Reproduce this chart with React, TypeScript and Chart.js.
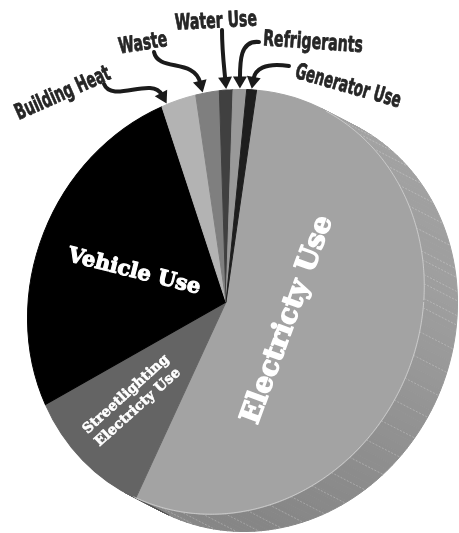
import React, { useEffect, useRef } from "react";
import { Chart, registerables } from "chart.js";

Chart.register(...registerables);

// ---- data ----
const categories = [
  "Electricty Use",
  "Streetlighting Electricty Use",
  "Vehicle Use",
  "Building Heat",
  "Waste",
  "Water Use",
  "Refrigerants",
  "Generator Use",
];
const shares = [55.1, 10.7, 26.6, 2.8, 1.9, 1.1, 1.1, 0.8];
const sliceColors = ["#a3a3a3", "#646464", "#000000", "#b3b3b3", "#7f7f7f", "#404040", "#999999", "#1e1e1e"];

// ---- look ----
const SX = 0.9316; // horizontal squash of the pie face
const SHX = -0.071; // slight tilt of the face
const DX = 33; // extrusion depth
const DY = 17;
const START_ROT = 4.5;

const INNER_LABELS = [
  { lines: ["Electricty Use"], x: 288, y: 320, rot: -70, size: 28, lh: 30, sw: 1.4 },
  { lines: ["Vehicle Use"], x: 134, y: 272, rot: 14, size: 21, lh: 22, sw: 1.1 },
  { lines: ["Streetlighting", "Electricty Use"], x: 132, y: 401, rot: -42, size: 14, lh: 17.5, sw: 0.6 },
];
const OUTER_LABELS = [
  { text: "Building Heat", x: 63, y: 94, rot: -24, w: 102 },
  { text: "Waste", x: 143, y: 44, rot: -9, w: 49 },
  { text: "Water Use", x: 216, y: 22, rot: -3, w: 82 },
  { text: "Refrigerants", x: 313, y: 43, rot: 4, w: 100 },
  { text: "Generator Use", x: 348, y: 87, rot: 16, w: 109 },
];
const ARROWS = [
  { slice: 3, frac: 0.15, from: [104, 84], c1: [112, 104], c2: [152, 76] },
  { slice: 4, frac: 0.3, from: [154, 52], c1: [158, 72], c2: [194, 58] },
  { slice: 5, frac: 0.5, from: [222, 30], c1: [222, 50], c2: [224, 66] },
  { slice: 6, frac: 0.5, from: [259, 42], c1: [240, 40], c2: [240, 62] },
  { slice: 7, frac: 0.5, from: [289, 66], c1: [264, 62], c2: [255, 70] },
];

function hexToRgb(h: string) {
  const v = parseInt(h.slice(1), 16);
  return [(v >> 16) & 255, (v >> 8) & 255, v & 255];
}

function geom(chart: any) {
  const arcs = chart.getDatasetMeta(0).data as any[];
  const el = arcs[0];
  const cx = el.x, cy = el.y, R = el.outerRadius;
  const map = (a: number, r: number) => {
    const X = r * Math.cos(a), Y = r * Math.sin(a);
    return [cx + SX * X + SHX * Y, cy + Y];
  };
  const facing = (a: number) => {
    const tx = -SX * Math.sin(a) + SHX * Math.cos(a);
    const ty = Math.cos(a);
    const nx = ty, ny = -tx;
    const len = Math.hypot(nx, ny);
    const dl = Math.hypot(DX, DY);
    return { dot: (nx * DX + ny * DY) / (len * dl), ny: ny / len };
  };
  return { arcs, cx, cy, R, map, facing };
}

function sideShade(ny: number) {
  if (ny < 0) return 0.97 + 0.03 * Math.min(1, -ny);
  return 0.97 - 0.15 * Math.pow(ny, 1.2);
}

const pie3d = {
  id: "pie3d",
  beforeDatasetsDraw(chart: any) {
    const ctx = chart.ctx as CanvasRenderingContext2D;
    const g = geom(chart);
    const STEP = (2 * Math.PI) / 180;
    ctx.save();
    g.arcs.forEach((el: any, i: number) => {
      const base = hexToRgb(sliceColors[i]);
      const s = el.startAngle, e = el.endAngle;
      const n = Math.max(1, Math.ceil((e - s) / STEP));
      for (let k = 0; k < n; k++) {
        const a0 = s + ((e - s) * k) / n;
        const a1 = s + ((e - s) * (k + 1)) / n;
        const v = g.facing((a0 + a1) / 2);
        if (v.dot <= -0.02) continue;
        const f = sideShade(v.ny);
        const col = `rgb(${Math.round(base[0] * f)},${Math.round(base[1] * f)},${Math.round(base[2] * f)})`;
        const p0 = g.map(a0, g.R), p1 = g.map(a1, g.R);
        ctx.beginPath();
        ctx.moveTo(p0[0], p0[1]);
        ctx.lineTo(p1[0], p1[1]);
        ctx.lineTo(p1[0] + DX, p1[1] + DY);
        ctx.lineTo(p0[0] + DX, p0[1] + DY);
        ctx.closePath();
        ctx.fillStyle = col;
        ctx.strokeStyle = col;
        ctx.lineWidth = 1;
        ctx.fill();
        ctx.stroke();
      }
    });
    // faint seams on the side
    ctx.strokeStyle = "rgba(255,255,255,0.28)";
    ctx.lineWidth = 0.9;
    ctx.setLineDash([2, 1.5]);
    const stripeStep = (6.5 * Math.PI) / 180;
    for (let a = -0.2; a < 2 * Math.PI; a += stripeStep) {
      const v = g.facing(a);
      if (v.dot <= 0.1) continue;
      const p = g.map(a, g.R - 0.5);
      ctx.beginPath();
      ctx.moveTo(p[0], p[1]);
      ctx.lineTo(p[0] + DX, p[1] + DY);
      ctx.stroke();
    }
    ctx.restore();
    ctx.save();
    ctx.transform(SX, 0, SHX, 1, g.cx - SX * g.cx - SHX * g.cy, 0);
  },
  afterDatasetsDraw(chart: any) {
    const ctx = chart.ctx as CanvasRenderingContext2D;
    ctx.restore();
    const g = geom(chart);
    // light rim on the front edge of the face
    ctx.save();
    ctx.strokeStyle = "rgba(225,225,225,0.7)";
    ctx.lineWidth = 0.9;
    const st = Math.PI / 360;
    let drawing = false;
    ctx.beginPath();
    for (let a = 0; a <= 2 * Math.PI; a += st) {
      const v = g.facing(a);
      const p = g.map(a, g.R - 0.3);
      if (v.dot > 0.02) {
        if (!drawing) ctx.moveTo(p[0], p[1]);
        else ctx.lineTo(p[0], p[1]);
        drawing = true;
      } else drawing = false;
    }
    ctx.stroke();
    ctx.restore();
  },
  afterDraw(chart: any) {
    const ctx = chart.ctx as CanvasRenderingContext2D;
    const g = geom(chart);
    ctx.save();
    // inner labels (heavy slab serif)
    ctx.fillStyle = "#ffffff";
    ctx.strokeStyle = "#ffffff";
    ctx.lineJoin = "round";
    ctx.textAlign = "center";
    ctx.textBaseline = "middle";
    INNER_LABELS.forEach((l) => {
      ctx.save();
      ctx.translate(l.x, l.y);
      ctx.rotate((l.rot * Math.PI) / 180);
      ctx.font = `bold ${l.size}px "DejaVu Serif", serif`;
      ctx.lineWidth = l.sw;
      const n = l.lines.length;
      l.lines.forEach((t, j) => {
        const yy = (j - (n - 1) / 2) * l.lh;
        ctx.fillText(t, 0, yy);
        ctx.strokeText(t, 0, yy);
      });
      ctx.restore();
    });
    // arrows
    ctx.strokeStyle = "#1b1b1b";
    ctx.fillStyle = "#1b1b1b";
    ctx.lineWidth = 4;
    ctx.lineCap = "round";
    ARROWS.forEach((ar) => {
      const el = g.arcs[ar.slice];
      const a = el.startAngle + (el.endAngle - el.startAngle) * ar.frac;
      const tip = g.map(a, g.R + 1);
      let dx = tip[0] - ar.c2[0], dy = tip[1] - ar.c2[1];
      const len = Math.hypot(dx, dy);
      dx /= len; dy /= len;
      const hl = 12, hw = 7;
      const bx = tip[0] - dx * hl, by = tip[1] - dy * hl;
      ctx.beginPath();
      ctx.moveTo(ar.from[0], ar.from[1]);
      ctx.bezierCurveTo(ar.c1[0], ar.c1[1], ar.c2[0], ar.c2[1], bx + dx * 2, by + dy * 2);
      ctx.stroke();
      ctx.beginPath();
      ctx.moveTo(tip[0], tip[1]);
      ctx.lineTo(bx - dy * hw, by + dx * hw);
      ctx.lineTo(bx + dy * hw, by - dx * hw);
      ctx.closePath();
      ctx.fill();
    });
    // outer labels (heavy, condensed)
    ctx.fillStyle = "#262626";
    ctx.font = `bold 22px "DejaVu Sans", sans-serif`;
    OUTER_LABELS.forEach((l) => {
      ctx.save();
      ctx.translate(l.x, l.y);
      ctx.rotate((l.rot * Math.PI) / 180);
      const m = ctx.measureText(l.text).width;
      ctx.scale(l.w / m, 1);
      ctx.fillText(l.text, 0, 0);
      ctx.strokeStyle = "#262626";
      ctx.lineWidth = 0.8;
      ctx.strokeText(l.text, 0, 0);
      ctx.restore();
    });
    ctx.restore();
  },
};

export default function App() {
  const ref = useRef<HTMLCanvasElement | null>(null);
  useEffect(() => {
    if (!ref.current) return;
    const chart = new Chart(ref.current, {
      type: "pie",
      data: {
        labels: categories,
        datasets: [
          {
            data: shares,
            backgroundColor: sliceColors,
            borderColor: sliceColors,
            borderWidth: 1,
          },
        ],
      },
      options: {
        responsive: false,
        animation: false,
        rotation: START_ROT,
        layout: { padding: { top: 89, bottom: 18, left: 13, right: 20 } },
        plugins: { legend: { display: false }, tooltip: { enabled: false } },
      },
      plugins: [pie3d],
    });
    return () => chart.destroy();
  }, []);
  return (
    <div style={{ position: "absolute", left: 0, top: 0, width: 459, height: 533, background: "#fff" }}>
      <canvas ref={ref} width={459} height={533} />
    </div>
  );
}
